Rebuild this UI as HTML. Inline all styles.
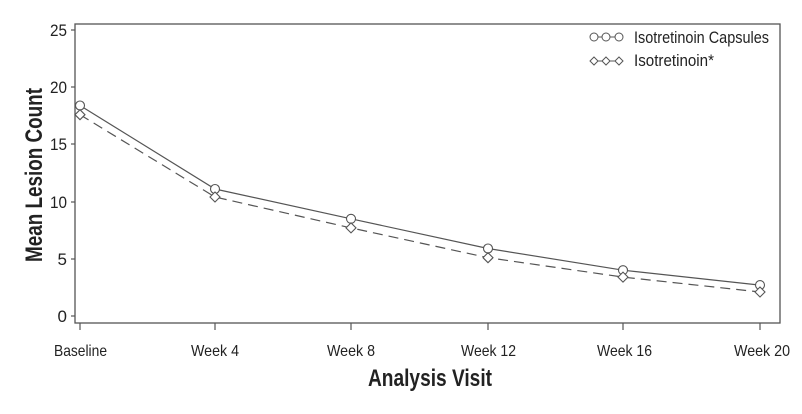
<!DOCTYPE html>
<html><head><style>
body{margin:0;background:#fff;}
svg text{font-family:"Liberation Sans",sans-serif;fill:#222;}
</style></head><body>
<svg width="802" height="409" xmlns="http://www.w3.org/2000/svg">
<rect x="75" y="24" width="705" height="299" fill="none" stroke="#555" stroke-width="1.3"/>
<g stroke="#555" stroke-width="1.2">
<line x1="71" y1="316" x2="75" y2="316"/><line x1="71" y1="259" x2="75" y2="259"/>
<line x1="71" y1="202" x2="75" y2="202"/><line x1="71" y1="144" x2="75" y2="144"/>
<line x1="71" y1="87" x2="75" y2="87"/><line x1="71" y1="30" x2="75" y2="30"/>
<line x1="80" y1="323" x2="80" y2="330"/><line x1="215" y1="323" x2="215" y2="330"/>
<line x1="351" y1="323" x2="351" y2="330"/><line x1="488" y1="323" x2="488" y2="330"/>
<line x1="623" y1="323" x2="623" y2="330"/><line x1="760" y1="323" x2="760" y2="330"/>
</g>
<g font-size="17" text-anchor="end">
<text x="67" y="322">0</text><text x="67" y="265" >5</text>
<text x="67" y="208" textLength="17" lengthAdjust="spacingAndGlyphs">10</text>
<text x="67" y="150" textLength="17" lengthAdjust="spacingAndGlyphs">15</text>
<text x="67" y="93" textLength="17" lengthAdjust="spacingAndGlyphs">20</text>
<text x="67" y="36" textLength="17" lengthAdjust="spacingAndGlyphs">25</text>
</g>
<g font-size="16" lengthAdjust="spacingAndGlyphs">
<text x="54" y="356" textLength="53" lengthAdjust="spacingAndGlyphs">Baseline</text>
<text x="191" y="356" textLength="48" lengthAdjust="spacingAndGlyphs">Week 4</text>
<text x="327" y="356" textLength="48" lengthAdjust="spacingAndGlyphs">Week 8</text>
<text x="461" y="356" textLength="55" lengthAdjust="spacingAndGlyphs">Week 12</text>
<text x="597" y="356" textLength="55" lengthAdjust="spacingAndGlyphs">Week 16</text>
<text x="734" y="356" textLength="56" lengthAdjust="spacingAndGlyphs">Week 20</text>
</g>
<text x="368" y="386" font-size="24" font-weight="bold" textLength="124" lengthAdjust="spacingAndGlyphs">Analysis Visit</text>
<text transform="translate(42,262) rotate(-90)" font-size="24" font-weight="bold" textLength="174" lengthAdjust="spacingAndGlyphs">Mean Lesion Count</text>
<polyline fill="none" stroke="#555" stroke-width="1.2" points="80,105.5 215,189 351,218.8 488,248.5 623,270.2 760,285.1"/>
<polyline fill="none" stroke="#555" stroke-width="1.2" stroke-dasharray="10,6" points="80,114.7 215,197 351,227.9 488,257.7 623,277.1 760,292"/>
<g fill="#fff" stroke="#555" stroke-width="1.1">
<circle cx="80" cy="105.5" r="4.5"/><circle cx="215" cy="189" r="4.5"/><circle cx="351" cy="218.8" r="4.5"/>
<circle cx="488" cy="248.5" r="4.5"/><circle cx="623" cy="270.2" r="4.5"/><circle cx="760" cy="285.1" r="4.5"/>
<path d="M80,109.7l5,5-5,5-5-5z"/><path d="M215,192l5,5-5,5-5-5z"/><path d="M351,222.9l5,5-5,5-5-5z"/>
<path d="M488,252.7l5,5-5,5-5-5z"/><path d="M623,272.1l5,5-5,5-5-5z"/><path d="M760,287l5,5-5,5-5-5z"/>
</g>
<g stroke="#555" stroke-width="1" fill="#fff">
<line x1="591" y1="37" x2="621" y2="37"/>
<circle cx="594" cy="37" r="4"/><circle cx="606" cy="37" r="4"/><circle cx="619" cy="37" r="4"/>
<line x1="591" y1="61" x2="621" y2="61"/>
<path d="M594,57l4,4-4,4-4-4z"/><path d="M606,57l4,4-4,4-4-4z"/><path d="M619,57l4,4-4,4-4-4z"/>
</g>
<g font-size="17">
<text x="634" y="43" textLength="135" lengthAdjust="spacingAndGlyphs">Isotretinoin Capsules</text>
<text x="634" y="66" textLength="80" lengthAdjust="spacingAndGlyphs">Isotretinoin*</text>
</g>
</svg>
</body></html>
